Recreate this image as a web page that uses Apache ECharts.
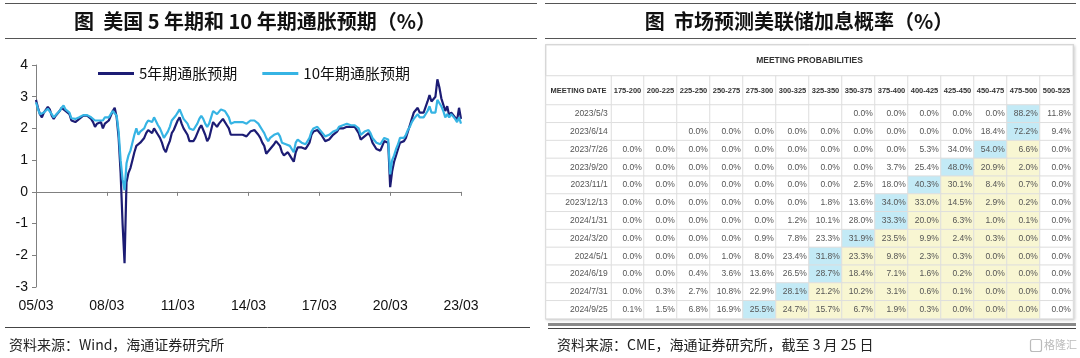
<!DOCTYPE html>
<html><head><meta charset="utf-8">
<script src="https://cdn.jsdelivr.net/npm/echarts@6/dist/echarts.min.js"></script>
<style>html,body{margin:0;padding:0;background:#fff;}#c{width:1080px;height:358px;}</style>
</head><body><div id="c"></div>
<script>
// ---------------- Left chart data (monthly, 2005/03 - 2023/03) ----------------
const startYear = 2005, startMonth = 3;
const seriesNames = ['5年期通胀预期', '10年期通胀预期'];
const inflation5y = [
  2.90,2.65,2.45,2.35,2.50,2.55,2.68,2.60,2.40,2.30,
  2.40,2.45,2.55,2.65,2.70,2.55,2.55,2.45,2.25,2.20,2.20,2.25,
  2.30,2.35,2.40,2.45,2.40,2.35,2.30,2.20,2.05,2.15,2.10,2.20,
  2.00,2.15,2.20,2.25,2.40,2.55,2.65,2.35,1.70,0.60,-1.00,-2.25,
  0.30,0.60,0.75,1.00,1.25,1.45,1.40,1.55,1.55,1.70,1.85,1.95,
  1.90,1.85,2.00,2.00,1.80,1.70,1.55,1.35,1.25,1.45,1.60,1.85,
  1.95,2.10,2.25,2.35,2.15,2.00,2.05,1.80,1.60,1.55,1.60,1.70,
  1.85,2.00,2.10,1.95,1.80,1.60,1.70,1.95,2.20,2.20,2.05,2.15,
  2.20,2.30,2.25,2.10,2.00,1.80,1.75,1.80,1.85,1.80,1.75,1.80,
  1.80,1.75,1.80,1.90,1.95,1.95,1.90,1.80,1.70,1.55,1.45,1.20,
  1.15,1.35,1.40,1.50,1.60,1.60,1.45,1.25,1.15,1.20,1.25,1.15,
  1.05,0.95,1.25,1.40,1.45,1.40,1.35,1.35,1.45,1.55,1.80,1.90,
  1.90,1.95,1.90,1.80,1.75,1.60,1.65,1.65,1.70,1.80,1.80,1.90,
  2.00,2.05,2.00,2.05,2.05,2.05,2.05,2.05,2.05,2.00,1.85,1.65,
  1.65,1.75,1.80,1.85,1.75,1.55,1.55,1.35,1.40,1.30,1.45,1.60,
  1.65,1.55,0.15,0.65,0.95,1.15,1.35,1.55,1.55,1.60,1.70,1.90,
  2.10,2.30,2.50,2.55,2.65,2.50,2.55,2.50,2.50,2.85,3.05,2.85,
  2.85,3.00,3.55,3.30,2.95,2.75,2.55,2.70,2.40,2.50,2.45,2.35,
  2.25,2.65,2.30
];
const inflation10y = [
  2.82,2.62,2.45,2.40,2.50,2.55,2.62,2.58,2.45,2.35,
  2.42,2.45,2.55,2.65,2.72,2.60,2.60,2.50,2.32,2.30,2.30,2.33,
  2.35,2.38,2.42,2.45,2.42,2.40,2.35,2.30,2.25,2.30,2.25,2.30,
  2.25,2.35,2.30,2.35,2.45,2.55,2.60,2.40,1.90,1.00,0.40,0.05,
  0.90,1.15,1.30,1.55,1.80,2.00,1.80,1.90,1.85,2.00,2.15,2.25,
  2.25,2.20,2.35,2.35,2.10,2.00,1.85,1.70,1.65,1.90,2.05,2.25,
  2.30,2.40,2.50,2.60,2.45,2.30,2.35,2.15,2.00,2.05,1.95,2.00,
  2.15,2.30,2.40,2.30,2.15,2.05,2.15,2.35,2.55,2.50,2.45,2.50,
  2.60,2.60,2.55,2.45,2.35,2.15,2.10,2.20,2.25,2.20,2.15,2.20,
  2.20,2.15,2.20,2.25,2.25,2.25,2.25,2.15,2.05,1.95,1.85,1.70,
  1.60,1.70,1.75,1.80,1.85,1.85,1.75,1.55,1.50,1.50,1.55,1.45,
  1.40,1.25,1.55,1.65,1.65,1.55,1.50,1.50,1.60,1.70,1.90,2.00,
  2.00,2.05,2.00,1.90,1.85,1.75,1.80,1.80,1.85,1.90,1.90,1.95,
  2.05,2.10,2.10,2.15,2.15,2.15,2.10,2.10,2.10,2.10,2.00,1.80,
  1.80,1.90,1.90,1.95,1.85,1.70,1.70,1.55,1.55,1.50,1.60,1.70,
  1.75,1.65,0.55,1.00,1.15,1.35,1.50,1.70,1.65,1.70,1.80,1.95,
  2.05,2.20,2.30,2.35,2.45,2.35,2.35,2.35,2.35,2.55,2.70,2.50,
  2.45,2.50,2.90,2.95,2.70,2.55,2.35,2.45,2.35,2.45,2.40,2.30,
  2.20,2.35,2.15
];
const yTicks = {min: -3, max: 4, interval: 1};

// ---------------- Right table data (CME FedWatch) ----------------
const rateBuckets = ['175-200','200-225','225-250','250-275','275-300','300-325','325-350',
  '350-375','375-400','400-425','425-450','450-475','475-500','500-525'];
const meetingDates = ['2023/5/3','2023/6/14','2023/7/26','2023/9/20','2023/11/1','2023/12/13',
  '2024/1/31','2024/3/20','2024/5/1','2024/6/19','2024/7/31','2024/9/25'];
const currentBucket = '475-500';
const probTable = [
  [null,null,null,null,null,null,null,0.0,0.0,0.0,0.0,0.0,88.2,11.8],
  [null,null,0.0,0.0,0.0,0.0,0.0,0.0,0.0,0.0,0.0,18.4,72.2,9.4],
  [0.0,0.0,0.0,0.0,0.0,0.0,0.0,0.0,0.0,5.3,34.0,54.0,6.6,0.0],
  [0.0,0.0,0.0,0.0,0.0,0.0,0.0,0.0,3.7,25.4,48.0,20.9,2.0,0.0],
  [0.0,0.0,0.0,0.0,0.0,0.0,0.0,2.5,18.0,40.3,30.1,8.4,0.7,0.0],
  [0.0,0.0,0.0,0.0,0.0,0.0,1.8,13.6,34.0,33.0,14.5,2.9,0.2,0.0],
  [0.0,0.0,0.0,0.0,0.0,1.2,10.1,28.0,33.3,20.0,6.3,1.0,0.1,0.0],
  [0.0,0.0,0.0,0.0,0.9,7.8,23.3,31.9,23.5,9.9,2.4,0.3,0.0,0.0],
  [0.0,0.0,0.0,1.0,8.0,23.4,31.8,23.3,9.8,2.3,0.3,0.0,0.0,0.0],
  [0.0,0.0,0.4,3.6,13.6,26.5,28.7,18.4,7.1,1.6,0.2,0.0,0.0,0.0],
  [0.0,0.3,2.7,10.8,22.9,28.1,21.2,10.2,3.1,0.6,0.1,0.0,0.0,0.0],
  [0.1,1.5,6.8,16.9,25.5,24.7,15.7,6.7,1.9,0.3,0.0,0.0,0.0,0.0]
];

// ---------------- Build ----------------
const months = inflation5y.map((_, i) => {
  const t = (startMonth - 1) + i;
  const y = startYear + Math.floor(t / 12), m = t % 12 + 1;
  return String(y % 100).padStart(2, '0') + '/' + String(m).padStart(2, '0');
});

const NARROW = "'Liberation Sans Narrow','Liberation Sans',Arial,sans-serif";
const CJK = "'Noto Sans CJK SC','Noto Sans',sans-serif";
const BLUE = '#c3eaf6', YELLOW = '#f8f6d2', BORDER = '#dedede';

const curIdx = rateBuckets.indexOf(currentBucket);
const cellData = [];
probTable.forEach((row, r) => {
  let maxIdx = 0;
  row.forEach((v, c) => { if (v != null && v > (row[maxIdx] == null ? -1 : row[maxIdx])) maxIdx = c; });
  row.forEach((v, c) => {
    let bg = '#ffffff';
    if (v != null) {
      if (c === maxIdx) bg = BLUE;
      else if (c > maxIdx && c <= curIdx) bg = YELLOW;
    }
    cellData.push({value: [c, r, v == null ? 0 : v], blank: v == null, itemStyle: {color: bg}});
  });
});

const T = {left: 546, top: 45, dateW: 65, colW: 33, mpH: 31, hdrH: 29, rowH: 17.8};
const dataLeft = T.left + T.dateW;
const tableW = T.dateW + T.colW * rateBuckets.length;
const hdrTop = T.top + T.mpH;
const rowsTop = hdrTop + T.hdrH;
const rowsH = T.rowH * meetingDates.length;

const hideAx = {show: false};
const cellBase = {
  type: 'heatmap', silent: true, emphasis: {disabled: true},
  itemStyle: {borderColor: BORDER, borderWidth: 1}
};
const g = o => Object.assign({outerBoundsMode: 'none', containLabel: false}, o);

const option = {
  animation: false,
  textStyle: {fontFamily: "'Liberation Sans',Arial,sans-serif"},
  legend: {
    left: 93, top: 61, itemWidth: 36, itemHeight: 3, itemGap: 25, icon: 'rect',
    data: seriesNames,
    textStyle: {fontFamily: CJK, fontSize: 15, color: '#111'}
  },
  grid: [
    g({left: 36, top: 65, width: 425, height: 222}),
    g({left: dataLeft, top: hdrTop, width: T.colW * rateBuckets.length, height: T.hdrH}),
    g({left: dataLeft, top: rowsTop, width: T.colW * rateBuckets.length, height: rowsH}),
    g({left: T.left, top: hdrTop, width: T.dateW, height: T.hdrH}),
    g({left: T.left, top: rowsTop, width: T.dateW, height: rowsH})
  ],
  xAxis: [
    {type: 'category', gridIndex: 0, position: 'bottom', data: months, boundaryGap: false,
      axisLine: {show: false, onZero: false},
      axisTick: {show: false},
      axisLabel: {interval: 35, margin: 12, fontSize: 14, color: '#111'},
      splitLine: {show: false}},
    {type: 'category', gridIndex: 1, data: rateBuckets, ...hideAx},
    {type: 'category', gridIndex: 2, data: rateBuckets, ...hideAx},
    {type: 'category', gridIndex: 3, data: ['MEETING DATE'], ...hideAx},
    {type: 'category', gridIndex: 4, data: ['date'], ...hideAx},
    {type: 'category', gridIndex: 0, position: 'bottom', data: months, boundaryGap: false,
      axisLine: {show: true, onZero: true, lineStyle: {color: '#808080', width: 1}},
      axisTick: {show: true, interval: 35, length: 4, lineStyle: {color: '#808080'}},
      axisLabel: {show: false},
      splitLine: {show: false}}
  ],
  yAxis: [
    {type: 'value', gridIndex: 0, min: yTicks.min, max: yTicks.max, interval: yTicks.interval,
      axisLine: {show: true, lineStyle: {color: '#808080'}},
      axisTick: {show: true, length: 4, lineStyle: {color: '#808080'}},
      axisLabel: {fontSize: 14, color: '#111', margin: 8},
      splitLine: {show: false}},
    {type: 'category', gridIndex: 1, data: ['hdr'], ...hideAx},
    {type: 'category', gridIndex: 2, data: meetingDates, inverse: true, ...hideAx},
    {type: 'category', gridIndex: 3, data: ['hdr'], ...hideAx},
    {type: 'category', gridIndex: 4, data: meetingDates, inverse: true, ...hideAx}
  ],
  series: [
    {name: seriesNames[0], type: 'line', xAxisIndex: 0, yAxisIndex: 0, data: inflation5y,
      showSymbol: false, color: '#1c1c74', lineStyle: {width: 2.2, color: '#1c1c74'}, z: 3},
    {name: seriesNames[1], type: 'line', xAxisIndex: 0, yAxisIndex: 0, data: inflation10y,
      showSymbol: false, color: '#36b4e4', lineStyle: {width: 2.2, color: '#36b4e4'}, z: 4},
    Object.assign({}, cellBase, {
      xAxisIndex: 1, yAxisIndex: 1,
      data: rateBuckets.map((b, i) => ({value: [i, 0, 1], itemStyle: {color: '#fff'}})),
      label: {show: true, formatter: p => rateBuckets[p.data.value[0]],
        fontFamily: NARROW, fontSize: 7.5, fontWeight: 'bold', color: '#333'}
    }),
    Object.assign({}, cellBase, {
      xAxisIndex: 2, yAxisIndex: 2, data: cellData,
      label: {show: true, position: 'insideRight', distance: 3,
        formatter: p => p.data.blank ? '' : p.data.value[2].toFixed(1) + '%',
        fontFamily: NARROW, fontSize: 8.5, color: '#555'}
    }),
    Object.assign({}, cellBase, {
      xAxisIndex: 3, yAxisIndex: 3,
      data: [{value: [0, 0, 1], itemStyle: {color: '#fff'}}],
      label: {show: true, formatter: 'MEETING DATE',
        fontFamily: NARROW, fontSize: 7.5, fontWeight: 'bold', color: '#333'}
    }),
    Object.assign({}, cellBase, {
      xAxisIndex: 4, yAxisIndex: 4,
      data: meetingDates.map((d, i) => ({value: [0, i, 1], itemStyle: {color: '#fff'}})),
      label: {show: true, position: 'insideRight', distance: 4,
        formatter: p => meetingDates[p.data.value[1]],
        fontFamily: NARROW, fontSize: 8.5, color: '#555'}
    })
  ],
  graphic: [
    {type: 'line', shape: {x1: 5, y1: 3.5, x2: 537, y2: 3.5}, style: {stroke: '#555', lineWidth: 1.2}},
    {type: 'line', shape: {x1: 5, y1: 38.5, x2: 537, y2: 38.5}, style: {stroke: '#555', lineWidth: 1.2}},
    {type: 'line', shape: {x1: 545, y1: 3.5, x2: 1076, y2: 3.5}, style: {stroke: '#555', lineWidth: 1.2}},
    {type: 'line', shape: {x1: 545, y1: 38.5, x2: 1076, y2: 38.5}, style: {stroke: '#555', lineWidth: 1.2}},
    {type: 'text', x: 255, y: 21, style: {text: '图  美国 5 年期和 10 年期通胀预期（%）', fill: '#111',
      font: 'bold 20px ' + CJK, textAlign: 'center', textVerticalAlign: 'middle'}},
    {type: 'text', x: 799, y: 21, style: {text: '图  市场预测美联储加息概率（%）', fill: '#111',
      font: 'bold 20px ' + CJK, textAlign: 'center', textVerticalAlign: 'middle'}},
    {type: 'rect', z: -1, shape: {x: T.left - 0.5, y: T.top - 0.5, width: tableW + 1, height: T.mpH + T.hdrH + rowsH + 1},
      style: {fill: '#fff', stroke: '#cfcfcf', lineWidth: 1, shadowBlur: 3, shadowColor: 'rgba(0,0,0,0.18)', shadowOffsetX: 1, shadowOffsetY: 1}},
    {type: 'rect', shape: {x: T.left, y: T.top, width: tableW, height: T.mpH},
      style: {fill: '#fff', stroke: BORDER, lineWidth: 1}},
    {type: 'text', x: T.left + tableW / 2, y: T.top + T.mpH / 2, style: {text: 'MEETING PROBABILITIES', fill: '#333',
      font: 'bold 8.5px ' + NARROW, textAlign: 'center', textVerticalAlign: 'middle'}},
    {type: 'line', shape: {x1: 5, y1: 327.5, x2: 530, y2: 327.5}, style: {stroke: '#444', lineWidth: 1}},
    {type: 'rect', shape: {x: 548, y: 323, width: 528, height: 3}, style: {fill: '#8a8a8a'}},
    {type: 'line', shape: {x1: 548, y1: 328.5, x2: 1076, y2: 328.5}, style: {stroke: '#444', lineWidth: 1}},
    {type: 'text', x: 9, y: 345, style: {text: '资料来源：Wind，海通证券研究所', fill: '#222',
      font: '14px ' + CJK, textVerticalAlign: 'middle'}},
    {type: 'text', x: 557, y: 345, style: {text: '资料来源：CME，海通证券研究所，截至 3 月 25 日', fill: '#222',
      font: '14px ' + CJK, textVerticalAlign: 'middle'}},
    {type: 'rect', shape: {x: 1030.5, y: 339.5, width: 11, height: 12, r: 2}, style: {fill: 'none', stroke: '#bbb', lineWidth: 1.2}},
    {type: 'text', x: 1044, y: 345, style: {text: '格隆汇', fill: '#bbb', font: '11px ' + CJK, textVerticalAlign: 'middle'}}
  ]
};
const chart = echarts.init(document.getElementById('c'));
chart.setOption(option);
</script>
</body></html>
